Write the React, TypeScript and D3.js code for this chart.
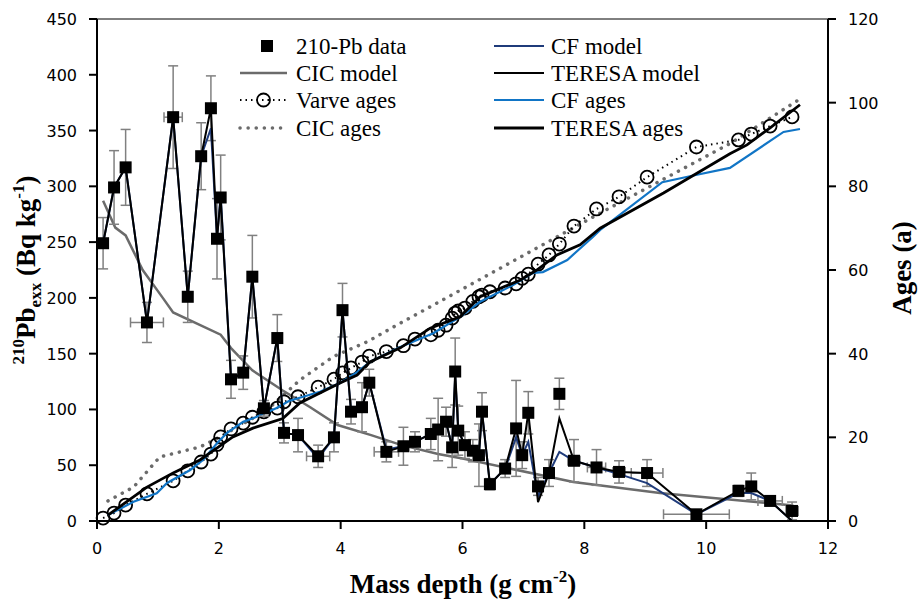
import React from "react";
import * as d3 from "d3";

// ---------- DATA ----------
const pbDepth = [0.10, 0.28, 0.47, 0.82, 1.25, 1.49, 1.71, 1.87, 1.97, 2.03, 2.20, 2.40, 2.55, 2.74, 2.96, 3.07, 3.30, 3.63, 3.89, 4.03, 4.17, 4.35, 4.47, 4.75, 5.03, 5.22, 5.48, 5.60, 5.73, 5.83, 5.88, 5.93, 6.04, 6.17, 6.27, 6.32, 6.45, 6.70, 6.88, 6.98, 7.08, 7.24, 7.42, 7.59, 7.83, 8.20, 8.57, 9.03, 9.84, 10.53, 10.74, 11.05, 11.41];
const pbValue = [249, 299, 317, 178, 362, 201, 327, 370, 253, 290, 127, 133, 219, 101, 164, 79, 77, 58, 75, 189, 98, 102, 124, 62, 67, 71, 78, 82, 89, 66, 134, 81, 68, 63, 59, 98, 33, 47, 83, 59, 97, 31, 43, 114, 54, 48, 44, 43, 6, 27, 31, 18, 9];
const pbError = [23, 33, 34, 18, 46, 23, 30, 29, 36, 38, 17, 15, 37, 7, 21, 9, 15, 10, 13, 24, 11, 22, 12, 9, 17, 9, 14, 28, 13, 18, 30, 22, 12, 10, 28, 17, 5, 8, 43, 12, 19, 8, 12, 14, 19, 16, 10, 12, 3, 5, 12, 4, 8];
const pbDepthError = [0, 0, 0, 0.27, 0.15, 0, 0, 0, 0, 0, 0, 0, 0, 0, 0, 0, 0, 0.19, 0, 0, 0, 0, 0, 0.2, 0, 0, 0, 0, 0, 0, 0, 0, 0, 0, 0, 0, 0, 0, 0, 0, 0, 0, 0, 0, 0.1, 0.15, 0.1, 0.26, 0.54, 0.05, 0, 0.2, 0.1];

const teresaModel = [249, 299, 317, 178, 362, 201, 327, 370, 253, 290, 127, 133, 219, 101, 164, 79, 77, 58, 75, 189, 98, 102, 124, 62, 67, 71, 78, 82, 89, 66, 134, 81, 68, 63, 59, 98, 33, 47, 83, 59, 97, 17, 43, 92, 54, 48, 44, 43, 6, 27, 31, 18, 0];
const cfModel = [249, 299, 317, 178, 362, 201, 327, 352, 253, 293, 127, 133, 219, 101, 164, 79, 77, 56, 75, 189, 98, 102, 124, 64, 67, 71, 78, 82, 89, 66, 130, 81, 68, 63, 59, 98, 33, 47, 75, 59, 71, 22, 43, 62, 54, 48, 42, 34, 6, 25, 25, 18, 0];

const cicModelDepth = [0.10, 0.30, 0.47, 0.75, 1.08, 1.25, 2.03, 2.20, 2.55, 3.05, 3.50, 3.95, 4.50, 5.00, 5.60, 6.00, 7.82, 9.24, 11.43];
const cicModelValue = [287, 263, 256, 225, 200, 187, 167, 155, 135, 117, 102, 86, 77, 68, 60, 56, 35, 25, 14];

const varveAge = [0.7, 1.9, 3.8, 6.5, 9.6, 12.0, 14.1, 16.0, 18.3, 20.1, 22.0, 23.4, 24.8, 26.1, 27.0, 28.5, 29.7, 32.0, 33.9, 35.4, 36.6, 38.0, 39.4, 40.5, 41.9, 43.5, 44.5, 45.6, 46.8, 48.5, 49.7, 50.2, 50.9, 52.5, 53.6, 54.0, 54.8, 55.7, 56.7, 58.0, 59.0, 61.4, 63.6, 66.2, 70.5, 74.6, 77.5, 82.2, 89.4, 91.1, 92.5, 94.4, 96.6];

const cicAgeDepth = [0.18, 0.60, 1.03, 1.69, 2.02, 2.79, 3.33, 3.88, 4.43, 4.98, 5.52, 8.21, 10.40, 11.51];
const cicAge = [4.8, 8.1, 15.3, 17.7, 20.1, 26.5, 33.7, 39.3, 42.8, 47.3, 51.6, 73.2, 90.3, 100.6];

const cfAgeDepth = [0.18, 0.60, 0.98, 1.15, 1.53, 1.74, 1.97, 2.13, 2.40, 2.62, 2.95, 3.15, 3.66, 3.99, 4.27, 4.48, 4.98, 5.52, 5.96, 6.29, 6.83, 7.16, 7.32, 7.72, 8.14, 8.26, 9.28, 9.79, 10.39, 11.27, 11.54];
const cfAge = [1.4, 4.6, 6.6, 9.1, 12.2, 14.6, 18.6, 21.0, 23.7, 24.9, 27.0, 28.7, 30.9, 33.0, 35.6, 38.0, 41.6, 44.9, 48.8, 52.4, 56.4, 59.3, 59.5, 62.4, 67.9, 69.6, 81.0, 82.6, 84.4, 93.0, 93.7];

const teresaAgeDepth = [0.18, 0.82, 1.25, 1.69, 2.23, 2.56, 3.05, 3.33, 3.99, 4.27, 4.48, 4.98, 5.47, 5.96, 6.29, 6.95, 7.22, 7.55, 7.93, 8.26, 9.30, 10.39, 10.67, 11.05, 11.54];
const teresaAge = [1.4, 8.1, 11.5, 14.6, 20.1, 22.2, 24.5, 28.2, 33.0, 34.9, 38.0, 41.4, 46.1, 48.8, 53.6, 57.6, 60.0, 63.6, 66.0, 70.0, 78.4, 87.8, 89.9, 94.0, 99.5];

const xTicks = [0, 2, 4, 6, 8, 10, 12];
const leftTicks = [0, 50, 100, 150, 200, 250, 300, 350, 400, 450];
const rightTicks = [0, 20, 40, 60, 80, 100, 120];

// ---------- CHART ----------
const W = 921, H = 602;
const L = 97, R = 828, T = 19, B = 521;

const x = d3.scaleLinear().domain([0, 12]).range([L, R]);
const yL = d3.scaleLinear().domain([0, 450]).range([B, T]);
const yR = d3.scaleLinear().domain([0, 120]).range([B, T]);

const lineL = (xs: number[], ys: number[]) =>
  d3.line<number>().x((_, i) => x(xs[i])).y((v) => yL(v))(ys) || "";
const lineR = (xs: number[], ys: number[]) =>
  d3.line<number>().x((_, i) => x(xs[i])).y((v) => yR(v))(ys) || "";

const NAVY = "#1f3b7a";
const BLUE = "#1175c6";
const GRAY = "#6b6b6b";
const ERR = "#808080";
const serif = "'Liberation Serif', 'Times New Roman', serif";
const sans = "'DejaVu Sans', sans-serif";

export default function App() {
  const legend1Y = [46, 73, 100, 128];
  const c1x0 = 240, c1x1 = 287, c1t = 296;
  const c2x0 = 494, c2x1 = 544, c2t = 551;
  return (
    <svg width={W} height={H} style={{ position: "absolute", left: 0, top: 0, background: "#fff" }}>
      <rect x={0} y={0} width={W} height={H} fill="#fff" />

      {/* CIC model */}
      <path d={lineL(cicModelDepth, cicModelValue)} fill="none" stroke={GRAY} strokeWidth={2.5} />
      {/* CIC ages */}
      <path d={lineR(cicAgeDepth, cicAge)} fill="none" stroke={GRAY} strokeWidth={3.5} strokeDasharray="0.1 8" strokeLinecap="round" />
      {/* Varve ages */}
      <path d={lineR(pbDepth, varveAge)} fill="none" stroke="#000" strokeWidth={2} strokeDasharray="1.5 4" />
      {pbDepth.map((d, i) => (
        <circle key={"v" + i} cx={x(d)} cy={yR(varveAge[i])} r={6.5} fill="none" stroke="#000" strokeWidth={1.8} />
      ))}
      {/* CF ages */}
      <path d={lineR(cfAgeDepth, cfAge)} fill="none" stroke={BLUE} strokeWidth={2.2} />
      {/* TERESA ages */}
      <path d={lineR(teresaAgeDepth, teresaAge)} fill="none" stroke="#000" strokeWidth={2.8} />

      {/* error bars */}
      {pbDepth.map((d, i) => {
        const cx = x(d), cy = yL(pbValue[i]);
        const y0 = yL(pbValue[i] - pbError[i]), y1 = yL(pbValue[i] + pbError[i]);
        const xe = pbDepthError[i];
        return (
          <g key={"e" + i} stroke={ERR} strokeWidth={1.5} fill="none">
            <line x1={cx} x2={cx} y1={y0} y2={y1} />
            <line x1={cx - 5} x2={cx + 5} y1={y0} y2={y0} />
            <line x1={cx - 5} x2={cx + 5} y1={y1} y2={y1} />
            {xe > 0 && (
              <>
                <line x1={x(d - xe)} x2={x(d + xe)} y1={cy} y2={cy} />
                <line x1={x(d - xe)} x2={x(d - xe)} y1={cy - 5} y2={cy + 5} />
                <line x1={x(d + xe)} x2={x(d + xe)} y1={cy - 5} y2={cy + 5} />
              </>
            )}
          </g>
        );
      })}

      {/* CF model */}
      <path d={lineL(pbDepth, cfModel)} fill="none" stroke={NAVY} strokeWidth={2} />
      {/* TERESA model */}
      <path d={lineL(pbDepth, teresaModel)} fill="none" stroke="#000" strokeWidth={2} />

      {/* data squares */}
      {pbDepth.map((d, i) => (
        <rect key={"s" + i} x={x(d) - 6} y={yL(pbValue[i]) - 6} width={12} height={12} fill="#000" />
      ))}

      {/* frame */}
      <line x1={L} x2={R} y1={T} y2={T} stroke="#000" strokeWidth={1} />
      <line x1={L} x2={L} y1={T} y2={B + 1} stroke="#000" strokeWidth={2} />
      <line x1={R} x2={R} y1={T} y2={B + 1} stroke="#000" strokeWidth={2} />
      <line x1={L - 1} x2={R + 1} y1={B} y2={B} stroke="#000" strokeWidth={2} />

      {/* x ticks */}
      {xTicks.map((t) => (
        <g key={"xt" + t}>
          <line x1={x(t)} x2={x(t)} y1={B} y2={B + 8} stroke="#000" strokeWidth={2} />
          <text x={x(t)} y={554} textAnchor="middle" fontFamily={sans} fontSize={16}>{t}</text>
        </g>
      ))}
      {/* left ticks */}
      {leftTicks.map((t) => (
        <g key={"lt" + t}>
          <line x1={L - 8} x2={L} y1={yL(t)} y2={yL(t)} stroke="#000" strokeWidth={2} />
          <text x={77} y={yL(t) + 6} textAnchor="end" fontFamily={sans} fontSize={16}>{t}</text>
        </g>
      ))}
      {/* right ticks */}
      {rightTicks.map((t) => (
        <g key={"rt" + t}>
          <line x1={R} x2={R + 8} y1={yR(t)} y2={yR(t)} stroke="#000" strokeWidth={2} />
          <text x={848} y={yR(t) + 6} textAnchor="start" fontFamily={sans} fontSize={16}>{t}</text>
        </g>
      ))}

      {/* axis titles */}
      <text x={463} y={593} textAnchor="middle" fontFamily={serif} fontWeight="bold" fontSize={27}>
        Mass depth (g cm<tspan dy={-11} fontSize={17}>-2</tspan><tspan dy={11}>)</tspan>
      </text>
      <text transform="translate(35,270) rotate(-90)" textAnchor="middle" fontFamily={serif} fontWeight="bold" fontSize={27}>
        <tspan dy={-11} fontSize={17}>210</tspan><tspan dy={11}>Pb</tspan><tspan dy={6} fontSize={17}>exx</tspan><tspan dy={-6}> (Bq kg</tspan><tspan dy={-11} fontSize={17}>-1</tspan><tspan dy={11}>)</tspan>
      </text>
      <text transform="translate(911,268) rotate(-90)" textAnchor="middle" fontFamily={serif} fontWeight="bold" fontSize={27}>
        Ages (a)
      </text>

      {/* legend column 1 */}
      <g fontFamily={serif} fontSize={23}>
        <rect x={261} y={legend1Y[0] - 6} width={12} height={12} fill="#000" />
        <text x={c1t} y={legend1Y[0] + 8}>210-Pb data</text>

        <line x1={c1x0} x2={c1x1} y1={legend1Y[1]} y2={legend1Y[1]} stroke={GRAY} strokeWidth={2.5} />
        <text x={c1t} y={legend1Y[1] + 8}>CIC model</text>

        <line x1={c1x0} x2={c1x1} y1={legend1Y[2]} y2={legend1Y[2]} stroke="#000" strokeWidth={2} strokeDasharray="1.5 4" />
        <circle cx={(c1x0 + c1x1) / 2} cy={legend1Y[2]} r={6.5} fill="none" stroke="#000" strokeWidth={1.8} />
        <text x={c1t} y={legend1Y[2] + 8}>Varve ages</text>

        <line x1={c1x0} x2={c1x1} y1={legend1Y[3]} y2={legend1Y[3]} stroke={GRAY} strokeWidth={3.5} strokeDasharray="0.1 8" strokeLinecap="round" />
        <text x={c1t} y={legend1Y[3] + 8}>CIC ages</text>

        {/* column 2 */}
        <line x1={c2x0} x2={c2x1} y1={legend1Y[0]} y2={legend1Y[0]} stroke={NAVY} strokeWidth={2} />
        <text x={c2t} y={legend1Y[0] + 8}>CF model</text>

        <line x1={c2x0} x2={c2x1} y1={legend1Y[1]} y2={legend1Y[1]} stroke="#000" strokeWidth={2} />
        <text x={c2t} y={legend1Y[1] + 8}>TERESA model</text>

        <line x1={c2x0} x2={c2x1} y1={legend1Y[2]} y2={legend1Y[2]} stroke={BLUE} strokeWidth={2.2} />
        <text x={c2t} y={legend1Y[2] + 8}>CF ages</text>

        <line x1={c2x0} x2={c2x1} y1={legend1Y[3]} y2={legend1Y[3]} stroke="#000" strokeWidth={2.8} />
        <text x={c2t} y={legend1Y[3] + 8}>TERESA ages</text>
      </g>
    </svg>
  );
}
